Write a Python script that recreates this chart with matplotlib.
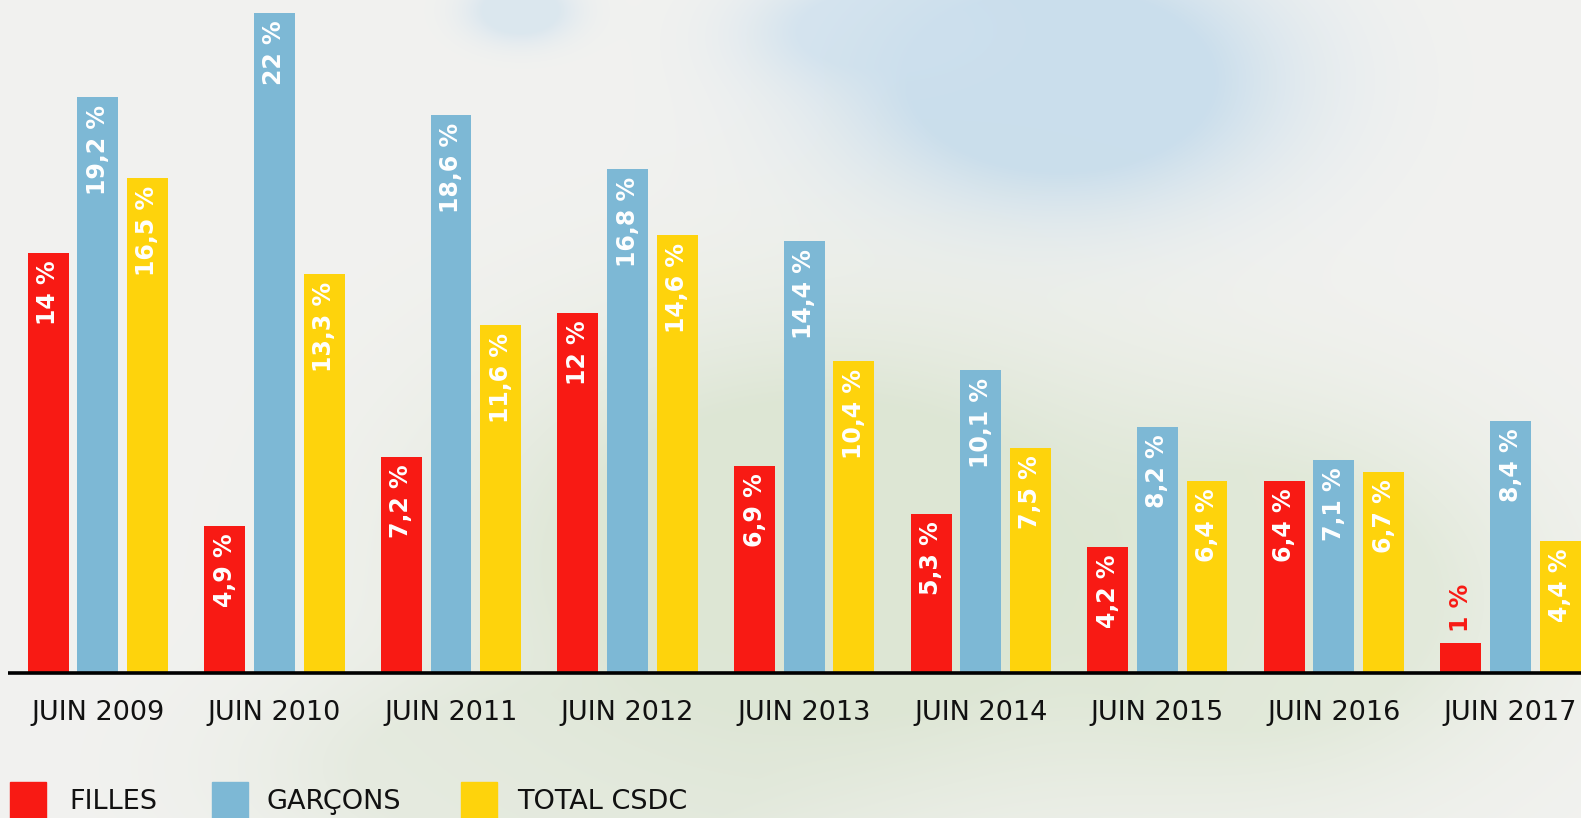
import numpy as np
import matplotlib.pyplot as plt
from matplotlib.patches import Rectangle

# data (percent)
years = ["JUIN 2009", "JUIN 2010", "JUIN 2011", "JUIN 2012", "JUIN 2013",
         "JUIN 2014", "JUIN 2015", "JUIN 2016", "JUIN 2017"]
filles = [14, 4.9, 7.2, 12, 6.9, 5.3, 4.2, 6.4, 1]
garcons = [19.2, 22, 18.6, 16.8, 14.4, 10.1, 8.2, 7.1, 8.4]
total = [16.5, 13.3, 11.6, 14.6, 10.4, 7.5, 6.4, 6.7, 4.4]
series_names = ["FILLES", "GARÇONS", "TOTAL CSDC"]

RED = "#f81a14"
BLUE = "#7db8d5"
YELLOW = "#fed30c"
FONT = ["DejaVu Sans"]

W, H = 1581, 818


def paper_background(w, h):
    """soft off-white paper with a blue and a green watercolour wash"""
    yy, xx = np.mgrid[0:h, 0:w]
    img = np.ones((h, w, 3)) * np.array([242, 242, 240]) / 255.0

    def blob(cx, cy, sx, sy, strength):
        g = np.exp(-(((xx - cx) / sx) ** 2 + ((yy - cy) / sy) ** 2))
        return (np.clip(g * 1.8, 0, 1) * strength)[..., None]

    washes = [
        (1060, 80, 200, 120, (198, 220, 236), 0.9),
        (880, 30, 110, 50, (205, 224, 238), 0.7),
        (520, 10, 50, 30, (205, 224, 238), 0.6),
        (820, 560, 320, 210, (218, 228, 208), 0.85),
        (1250, 600, 240, 170, (220, 230, 210), 0.7),
        (560, 770, 260, 100, (222, 230, 214), 0.6),
    ]
    for cx, cy, sx, sy, col, st in washes:
        g = blob(cx, cy, sx, sy, st)
        img = img * (1 - g) + np.array(col) / 255.0 * g
    return img


fig = plt.figure(figsize=(W / 100.0, H / 100.0), dpi=100)
bg = fig.add_axes([0, 0, 1, 1], zorder=0)
bg.imshow(paper_background(W, H), aspect="auto")
bg.axis("off")

ax = fig.add_axes([0, 0, 1, 1], zorder=1)
ax.patch.set_alpha(0)
ax.axis("off")
ax.set_xlim(-0.554, 8.399)
ax.set_ylim(-4.85, 22.42)

x = np.arange(len(years))
step = 0.281
width = 0.232
for k, (vals, col) in enumerate([(filles, RED), (garcons, BLUE), (total, YELLOW)]):
    pos = x + (k - 1) * step
    ax.bar(pos, vals, width=width, color=col, zorder=2)
    for p, v in zip(pos, vals):
        txt = ("%g" % v).replace(".", ",") + " %"
        if v < 2:
            ax.text(p, v + 0.35, txt, rotation=90, ha="center", va="bottom",
                    color=col, fontsize=17, fontweight="bold", family=FONT)
        else:
            ax.text(p, v - 0.27, txt, rotation=90, ha="center", va="top",
                    color="white", fontsize=17, fontweight="bold", family=FONT)

ax.plot([-0.508, 8.6], [0, 0], color="black", lw=2.6, zorder=3,
        solid_capstyle="butt")

for xi, lab in zip(x, years):
    ax.text(xi, -1.35, lab, ha="center", va="center", fontsize=19.5,
            color="#111111", family=FONT)

# legend along the bottom edge
leg = [(10, 69), (212, 267), (461, 517)]
for (sx, tx), name, col in zip(leg, series_names, [RED, BLUE, YELLOW]):
    fig.patches.append(Rectangle((sx / W, 0), 36 / W, 36 / H, color=col,
                                 transform=fig.transFigure, figure=fig, zorder=3))
    fig.text(tx / W, 1 - 802 / H, name, ha="left", va="center", fontsize=19.5,
             color="#111111", family=FONT)

fig.savefig("out.png", dpi=100)
